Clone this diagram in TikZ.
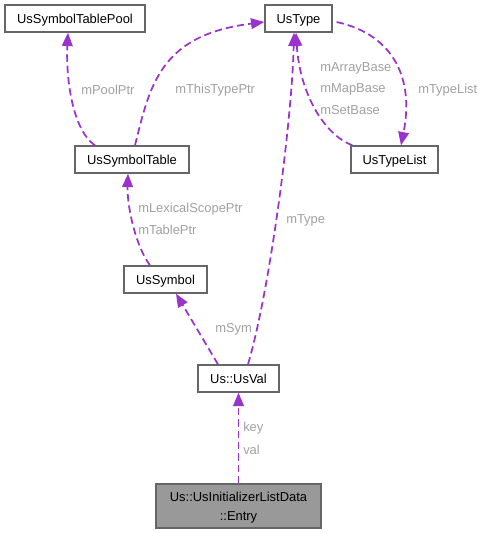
\documentclass[tikz,border=0pt]{standalone}
\usepackage{fontspec}
\setmainfont{Liberation Sans}
\usetikzlibrary{calc, arrows.meta}

\definecolor{edgecol}{HTML}{9A32CD}
\definecolor{lblcol}{HTML}{A0A0A0}
\definecolor{boxcol}{HTML}{666666}

\tikzset{
  box/.style={draw=boxcol, line width=1pt, fill=white, inner sep=0pt,
    minimum height=20.25pt, font=\fontsize{9.7}{11}\selectfont},
  cls/.style={box, text height=7pt, text depth=0pt},
  rel/.style={edgecol, line width=1.3pt, dash pattern=on 5.5pt off 3pt,
    -{Triangle[length=10pt, width=8pt]}},
  lbl/.style={lblcol, anchor=west, inner sep=0pt,
    font=\fontsize{9.7}{11}\selectfont},
}

\begin{document}
\begin{tikzpicture}[x=0.75pt, y=-0.75pt]
    \useasboundingbox (0, 0) rectangle (486, 533);

    % classes
    \node [cls, minimum width=105pt] (pool) at (75, 18.5) {UsSymbolTablePool};
    \node [cls, minimum width=50.25pt] (type) at (298.5, 18.5) {UsType};
    \node [cls, minimum width=85.5pt] (symtab) at (132, 159.5) {UsSymbolTable};
    \node [cls, minimum width=65.25pt] (typelist) at (394.5, 159.5) {UsTypeList};
    \node [cls, minimum width=62.25pt] (symbol) at (165.5, 279.5) {UsSymbol};
    \node [cls, minimum width=60.75pt] (usval) at (238.5, 378.5) {Us::UsVal};
    \node [box, fill=gray!80, minimum width=123.75pt, minimum height=33pt,
      align=center, font=\fontsize{9.7}{14.25}\selectfont]
      (entry) at (238.5, 506)
      {\rule{0pt}{10.2pt}Us::UsInitializerListData\\::Entry};

    % relations
    \draw [rel] ($(symtab.north)+(-37, 0)$)
      .. controls (70, 128) and (66, 70) .. ($(pool.south)+(-7, 0)$);
    \draw [rel] ($(symtab.north)+(3, 0)$)
      .. controls (150, 85) and (160, 35) .. ($(type.west)+(0, 3.5)$);
    \draw [rel] ($(typelist.north west)+(2, 0)$)
      .. controls (325, 135) and (300, 95) .. ($(type.south)+(-2.5, 0)$);
    \draw [rel] ($(type.east)+(4, 3.5)$)
      .. controls (395, 35) and (414, 80) .. ($(typelist.north)+(6.5, 0)$);
    \draw [rel] ($(symbol.north)+(-15.5, 0)$)
      .. controls (135, 245) and (127, 205) .. ($(symtab.south)+(-4, 0)$);
    \draw [rel] ($(usval.north)+(-20.5, 0)$) -- ($(symbol.south)+(10.5, 0)$);
    \draw [rel] ($(usval.north)+(9.5, 0)$)
      .. controls (270, 290) and (292, 120) .. ($(type.south)+(-4.5, 0)$);
    \draw [rel] (entry.north) -- (usval.south);

    % labels
    \node [lbl] (l_pool) at (81, 90) {mPoolPtr};
    \node [lbl] (l_this) at (175, 90) {mThisTypePtr};
    \node [lbl] (l_arr) at (320, 68) {mArrayBase};
    \node [lbl] (l_map) at (320, 89) {mMapBase};
    \node [lbl] (l_set) at (320, 110) {mSetBase};
    \node [lbl] (l_list) at (418, 90) {mTypeList};
    \node [lbl] (l_lex) at (138, 209) {mLexicalScopePtr};
    \node [lbl] (l_tab) at (138, 230) {mTablePtr};
    \node [lbl] (l_sym) at (215, 329) {mSym};
    \node [lbl] (l_type) at (286, 220) {mType};
    \node [lbl] (l_key) at (243, 428) {key};
    \node [lbl] (l_val) at (243, 450) {val};
\end{tikzpicture}
\end{document}
